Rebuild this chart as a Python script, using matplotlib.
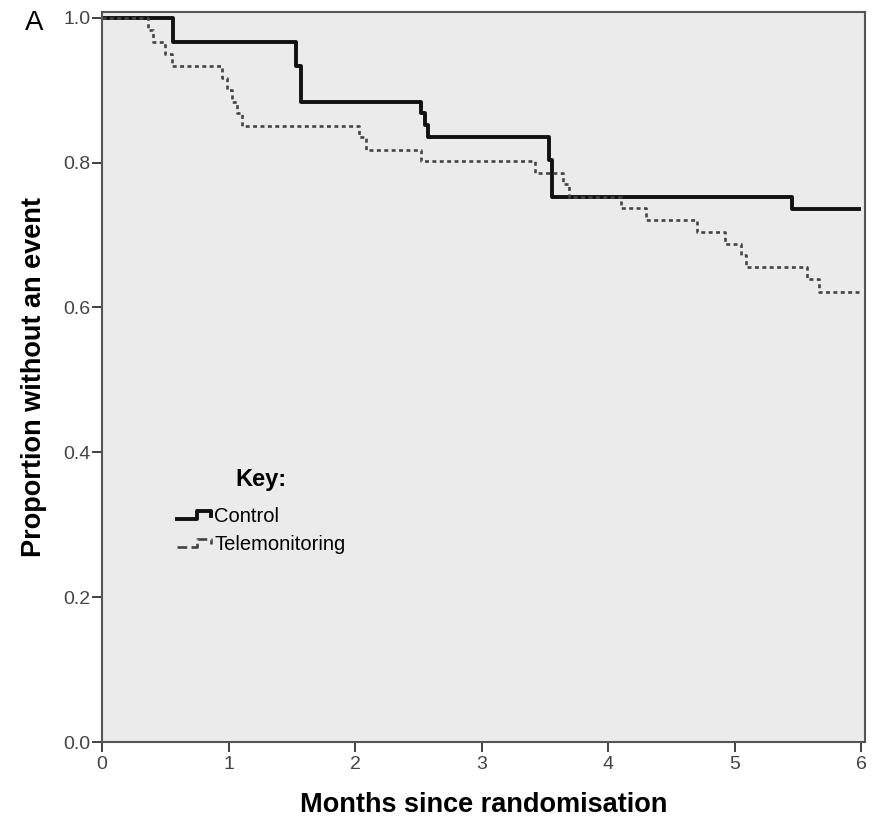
import numpy as np
import matplotlib
matplotlib.use('Agg')
import matplotlib.pyplot as plt
from matplotlib.lines import Line2D
from matplotlib.legend_handler import HandlerBase
from matplotlib import font_manager

# Kaplan-Meier step data (months, proportion without event)
control_t = [0, 0.56, 1.53, 1.57, 2.52, 2.55, 2.58, 3.53, 3.56, 5.45, 5.98]
control_s = [1.0, 0.967, 0.934, 0.884, 0.869, 0.852, 0.836, 0.804, 0.753, 0.736, 0.736]

tele_t = [0, 0.36, 0.40, 0.50, 0.55, 0.95, 0.99, 1.03, 1.07, 1.11, 2.03, 2.09,
          2.52, 3.42, 3.64, 3.69, 4.10, 4.30, 4.70, 4.92, 5.05, 5.09, 5.57, 5.67, 5.98]
tele_s = [1.0, 0.983, 0.966, 0.950, 0.934, 0.917, 0.901, 0.884, 0.868, 0.851, 0.835, 0.818,
          0.802, 0.786, 0.770, 0.753, 0.737, 0.721, 0.704, 0.688, 0.672, 0.656, 0.639, 0.622, 0.622]

x_ticks = [0, 1, 2, 3, 4, 5, 6]
y_ticks = [0.0, 0.2, 0.4, 0.6, 0.8, 1.0]

names = {f.name for f in font_manager.fontManager.ttflist}
narrow = 'Liberation Sans Narrow' if 'Liberation Sans Narrow' in names else 'Liberation Sans'
plt.rcParams['font.family'] = [narrow, 'DejaVu Sans']
bold_fam = ['Liberation Sans', 'DejaVu Sans']


class StepHandler(HandlerBase):
    # little step-shaped legend key like the SPSS one
    def create_artists(self, legend, orig, xdescent, ydescent, width, height, fontsize, trans):
        xs = np.array([0, 0.55, 0.55, 0.97, 0.97]) * width - xdescent
        ys = np.array([0.2, 0.2, 0.8, 0.8, 0.45]) * height - ydescent
        ln = Line2D(xs, ys, color=orig.get_color(), lw=orig.get_linewidth(),
                    linestyle=orig.get_linestyle())
        ln.set_transform(trans)
        return [ln]


fig = plt.figure(figsize=(8.73, 8.23), dpi=100)
ax = fig.add_axes([0.1168, 0.0984, 0.8740, 0.8870])
ax.set_facecolor('#ebebeb')

l1, = ax.step(control_t, control_s, where='post', color='#111111', lw=2.8, label='Control')
l2, = ax.step(tele_t, tele_s, where='post', color='#444444', lw=1.9,
              linestyle=(0, (1.5, 1.3)), label='Telemonitoring')

ax.set_xlim(0, 6.03)
ax.set_ylim(0, 1.008)
ax.set_xticks(x_ticks)
ax.set_xticklabels([str(v) for v in x_ticks])
ax.set_yticks(y_ticks)
ax.set_yticklabels(['%.1f' % v for v in y_ticks])
ax.tick_params(direction='out', length=7, width=1.3, color='#333333',
               labelsize=14, labelcolor='#444444')
ax.tick_params(axis='y', pad=1)
ax.tick_params(axis='x', pad=3)
for s in ax.spines.values():
    s.set_color('#555555')
    s.set_linewidth(1.5)

ax.set_xlabel('Months since randomisation', fontsize=19.5, fontweight='bold',
              family=bold_fam, labelpad=14)
ax.set_ylabel('Proportion without an event', fontsize=19.5, fontweight='bold',
              family=bold_fam, labelpad=12)

leg = ax.legend(handles=[l1, l2], labels=['Control', 'Telemonitoring'],
                handler_map={l1: StepHandler(), l2: StepHandler()},
                title='Key:', loc='upper left', bbox_to_anchor=(0.088, 0.387),
                frameon=False, fontsize=14.5, handlelength=1.75, handletextpad=0.1,
                labelspacing=0.45, borderaxespad=0)
leg.get_title().set_fontweight('bold')
leg.get_title().set_fontsize(17)
leg.get_title().set_family(bold_fam)
leg._legend_box.sep = 12

fig.text(0.028, 0.972, 'A', fontsize=20, va='center', ha='left')

fig.savefig('out.png', dpi=100)
